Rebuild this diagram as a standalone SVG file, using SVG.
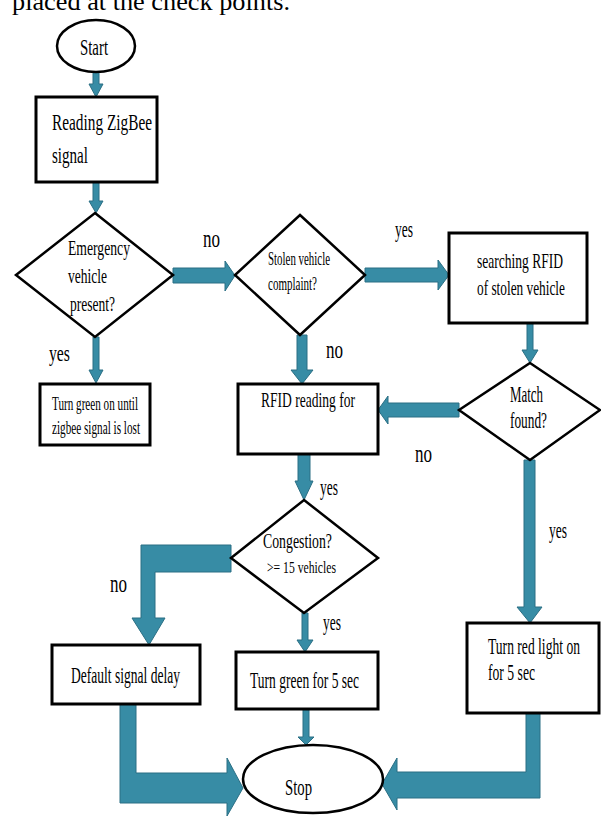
<svg xmlns="http://www.w3.org/2000/svg" width="601" height="816" viewBox="0 0 601 816">
<style>
  .box{fill:#fff;stroke:#000;stroke-width:3}
  .dia{fill:#fff;stroke:#000;stroke-width:2.5}
  .arr{fill:#378ca5;stroke:#2b6f84;stroke-width:1;stroke-linejoin:miter}
  text{font-family:"Liberation Serif","Times New Roman",serif;fill:#000}
  .t22{font-size:24px}
  .t21{font-size:23px}
  .t20{font-size:22px}
  .t17{font-size:18px}
  .t16{font-size:17px}
  .lbl{font-size:26px}
  .yes{font-size:23px}
</style>
<rect width="601" height="816" fill="#fff"/>
<text x="12" y="10" font-size="26" textLength="278" lengthAdjust="spacingAndGlyphs">placed at the check points.</text>

<g id="connectors">
  <polygon class="arr" points="93,72 99,72 99,84 103,84 96,97 89,84 93,84"/>
  <polygon class="arr" points="93,182 99,182 99,201 103,201 96,213 89,201 93,201"/>
  <polygon class="arr" points="173,268 225,268 225,261 235,275.5 225,291 225,283 173,283"/>
  <polygon class="arr" points="93,337 99,337 99,370 103,370 96,383 89,370 93,370"/>
  <polygon class="arr" points="365,268 438,268 438,260 449,275 438,290 438,282 365,282"/>
  <polygon class="arr" points="297,335 307,335 307,370 313,370 302,384 291,370 297,370"/>
  <polygon class="arr" points="527,323 533,323 533,350 538,350 530,363 522,350 527,350"/>
  <polygon class="arr" points="459,403 388,403 388,396 378,410 388,424 388,417 459,417"/>
  <polygon class="arr" points="298,454 310,454 310,481 313,481 304,500 295,481 298,481"/>
  <polygon class="arr" points="524,460 535,460 535,607 542,607 530,623 517,607 524,607"/>
  <polygon class="arr" points="231,545 141,545 141,618 132,618 149,645 165,618 155,618 155,572 231,572"/>
  <polygon class="arr" points="302,613 308,613 308,640 313,640 305,652 297,640 302,640"/>
  <polygon class="arr" points="303,709 309,709 309,737 314,737 306,745 298,737 303,737"/>
  <polygon class="arr" points="120,704 136,704 136,773 227,773 227,758 243,788 227,816 227,803 120,803"/>
  <polygon class="arr" points="526,713 540,713 540,798 397,798 397,810 382,784 397,758 397,772 526,772"/>
  <text class="lbl" x="203" y="247" textLength="17" lengthAdjust="spacingAndGlyphs">no</text>
  <text class="yes" x="49" y="361" textLength="21" lengthAdjust="spacingAndGlyphs">yes</text>
  <text class="yes" x="395" y="237" textLength="18" lengthAdjust="spacingAndGlyphs">yes</text>
  <text class="lbl" x="326" y="358" textLength="17" lengthAdjust="spacingAndGlyphs">no</text>
  <text class="lbl" x="415" y="462" textLength="17" lengthAdjust="spacingAndGlyphs">no</text>
  <text class="yes" x="320" y="495" textLength="18" lengthAdjust="spacingAndGlyphs">yes</text>
  <text class="lbl" x="110" y="592" textLength="17" lengthAdjust="spacingAndGlyphs">no</text>
  <text class="yes" x="323" y="630" textLength="18" lengthAdjust="spacingAndGlyphs">yes</text>
  <text class="yes" x="549" y="538" textLength="18" lengthAdjust="spacingAndGlyphs">yes</text>
</g>

<g id="start">
  <ellipse cx="96" cy="46" rx="39" ry="26" class="dia"/>
  <text class="t22" x="80" y="55" textLength="28" lengthAdjust="spacingAndGlyphs">Start</text>
</g>
<g id="reading">
  <rect x="36" y="97" width="121" height="85" class="box"/>
  <text class="t22" x="52" y="130" textLength="100" lengthAdjust="spacingAndGlyphs">Reading ZigBee</text>
  <text class="t22" x="52" y="163" textLength="36" lengthAdjust="spacingAndGlyphs">signal</text>
</g>
<g id="emergency">
  <polygon points="95,213 173,275 95,337 16,275" class="dia"/>
  <text class="t20" x="68" y="255" textLength="62" lengthAdjust="spacingAndGlyphs">Emergency</text>
  <text class="t20" x="68" y="283" textLength="39" lengthAdjust="spacingAndGlyphs">vehicle</text>
  <text class="t20" x="70" y="311" textLength="45" lengthAdjust="spacingAndGlyphs">present?</text>
</g>
<g id="turn-green-until">
  <rect x="40" y="384" width="110" height="61" class="box"/>
  <text class="t17" x="52" y="410" textLength="86" lengthAdjust="spacingAndGlyphs">Turn  green  on  until</text>
  <text class="t17" x="52" y="434" textLength="88" lengthAdjust="spacingAndGlyphs">zigbee  signal  is  lost</text>
</g>
<g id="stolen">
  <polygon points="300,215 365,275 300,335 235,275" class="dia"/>
  <text class="t17" x="268" y="265" textLength="62" lengthAdjust="spacingAndGlyphs">Stolen  vehicle</text>
  <text class="t17" x="268" y="290" textLength="49" lengthAdjust="spacingAndGlyphs">complaint?</text>
</g>
<g id="searching">
  <rect x="449" y="233" width="138" height="90" class="box"/>
  <text class="t20" transform="translate(477,268) scale(0.62,1)" x="0" y="0" textLength="138.7" lengthAdjust="spacingAndGlyphs">searching RFID</text>
  <text class="t20" transform="translate(477,295) scale(0.62,1)" x="0" y="0" textLength="141.9" lengthAdjust="spacingAndGlyphs">of stolen vehicle</text>
</g>
<g id="match">
  <polygon points="530,363 600,410 530,460 459,410" class="dia"/>
  <text class="t21" x="510" y="402" textLength="33" lengthAdjust="spacingAndGlyphs">Match</text>
  <text class="t21" x="510" y="428" textLength="37" lengthAdjust="spacingAndGlyphs">found?</text>
</g>
<g id="rfid-reading">
  <rect x="238" y="384" width="140" height="70" class="box"/>
  <text class="t20" x="261" y="407" textLength="94" lengthAdjust="spacingAndGlyphs">RFID reading  for</text>
</g>
<g id="congestion">
  <polygon points="304,500 378,558 304,613 231,558" class="dia"/>
  <text class="t20" x="263" y="548" textLength="69" lengthAdjust="spacingAndGlyphs">Congestion?</text>
  <text class="t16" x="267" y="573" textLength="69" lengthAdjust="spacingAndGlyphs">&gt;= 15 vehicles</text>
</g>
<g id="default-delay">
  <rect x="52" y="645" width="148" height="59" class="box"/>
  <text class="t21" x="71" y="683" textLength="109" lengthAdjust="spacingAndGlyphs">Default  signal  delay</text>
</g>
<g id="turn-green-5">
  <rect x="236" y="652" width="142" height="57" class="box"/>
  <text class="t21" x="250" y="688" textLength="109" lengthAdjust="spacingAndGlyphs">Turn green for  5 sec</text>
</g>
<g id="turn-red">
  <rect x="467" y="623" width="132" height="90" class="box"/>
  <text class="t21" transform="translate(488,654) scale(0.6,1)" x="0" y="0" textLength="153.3" lengthAdjust="spacingAndGlyphs">Turn red light  on</text>
  <text class="t21" x="488" y="680" textLength="47" lengthAdjust="spacingAndGlyphs">for  5 sec</text>
</g>
<g id="stop">
  <ellipse cx="313" cy="779" rx="70" ry="34" class="dia"/>
  <text class="t22" x="285" y="795" textLength="27" lengthAdjust="spacingAndGlyphs">Stop</text>
</g>
</svg>
